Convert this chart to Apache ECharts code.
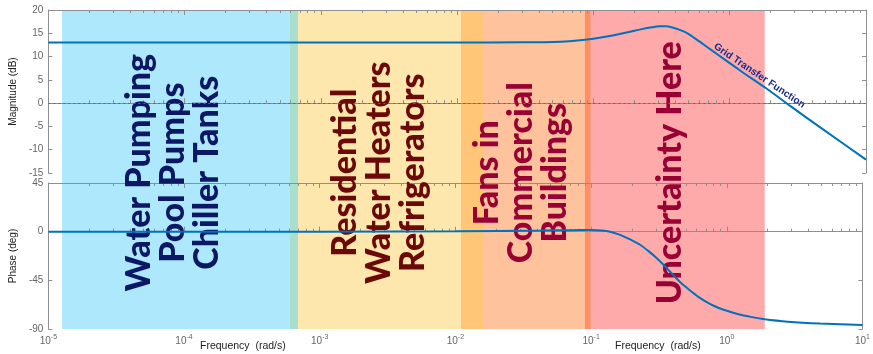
<!DOCTYPE html>
<html>
<head>
<meta charset="utf-8">
<script src="https://cdn.jsdelivr.net/npm/echarts@6/dist/echarts.min.js"></script>
<style>
  html, body { margin: 0; padding: 0; background: #fff; }
  #chart { width: 873px; height: 354px; }
</style>
</head>
<body>
<div id="chart"></div>
<script>
// magnitude curve
const magFreq = [1e-5, 1e-3, 1e-2, 0.03, 0.0437, 0.0575, 0.076, 0.1, 0.132, 0.175, 0.231, 0.27, 0.305, 0.34, 0.38, 0.42, 0.45, 0.49, 0.531, 0.61, 0.701, 0.925, 1.22, 1.85, 2.81, 4.87, 10];
const magDb = [13.0, 13.0, 13.02, 13.05, 13.08, 13.2, 13.45, 13.85, 14.4, 15.15, 15.95, 16.3, 16.5, 16.5, 16.25, 15.85, 15.5, 15.0, 14.3, 13.1, 11.8, 9.3, 6.8, 3.2, -0.7, -5.7, -12.14];

// phase curve
const phFreq = [1e-5, 1e-3, 1e-2, 0.044, 0.07, 0.1, 0.12, 0.14, 0.16, 0.175, 0.2, 0.231, 0.265, 0.305, 0.35, 0.402, 0.46, 0.531, 0.61, 0.701, 0.8, 0.925, 1.22, 1.5, 1.85, 2.81, 4.87, 10];
const phDeg = [0, 0, 0.3, 1.0, 1.4, 1.5, 1.0, -0.3, -2.5, -4.6, -8, -12.3, -18, -24.6, -32, -40, -47.5, -53.9, -59.8, -64.7, -68.5, -71.8, -76.4, -78.8, -80.7, -83.2, -85, -86.3];

// shaded frequency bands (overlaps given their own colour)
const bandStart = [1.52e-5, 6.78e-4, 7.75e-4, 0.0117, 0.0169, 0.0923, 0.102];
const bandEnd = [6.78e-4, 7.75e-4, 0.0117, 0.0169, 0.0923, 0.102, 1.85];
const bandColors = ['#aee8fc', '#a9dfcd', '#fde7ad', '#fec676', '#fec29c', '#fe8e66', '#feaaab'];

// band captions
const groupLabels = ['Water Pumping\nPool Pumps\nChiller Tanks', 'Residential\nWater Heaters\nRefrigerators', 'Fans in\nCommercial\nBuildings', 'Uncertainty Here'];
const groupFreq = [9.6e-5, 3.0e-3, 0.032, 0.38];
const groupColors = ['#0c1766', '#6b0808', '#990033', '#990033'];

const curveLabel = 'Grid Transfer Function';
const curveLabelAt = [1.65, 5.9];

const magTicks = { min: -15, max: 20, interval: 5 };
const phTicks = { min: -90, max: 45, interval: 45 };

const axisGray = '#8f8f8f';
const lineBlue = '#0072bd';

var minorVals = [];
for (var k = -5; k <= 0; k++) {
  for (var m = 2; m <= 9; m++) minorVals.push(m * Math.pow(10, k));
}

function supLabel(v) {
  var e = Math.round(Math.log10(v));
  return '{b|10}{s|' + e + '}';
}

function logAxes(grid, withLabels) {
  var base = { type: 'log', logBase: 10, min: 1e-5, max: 10, gridIndex: grid, z: 1, splitLine: { show: false } };
  var list = [];
  ['bottom', 'top'].forEach(function (pos) {
    list.push(Object.assign({}, base, {
      position: pos,
      axisLine: { show: true, lineStyle: { color: axisGray, width: 1 } },
      axisTick: { show: true, inside: true, length: 5, lineStyle: { color: axisGray } },
      axisLabel: {
        show: withLabels && pos === 'bottom',
        margin: 5,
        align: 'center',
        formatter: supLabel,
        rich: {
          b: { fontFamily: 'Liberation Sans', fontSize: 10, color: '#666', lineHeight: 14 },
          s: { fontFamily: 'Liberation Sans', fontSize: 7, color: '#666', verticalAlign: 'top', lineHeight: 14 }
        }
      }
    }));
    list.push(Object.assign({}, base, {
      position: pos,
      axisLine: { show: false },
      axisTick: { show: true, inside: true, length: 3, customValues: minorVals, lineStyle: { color: axisGray } },
      axisLabel: { show: false }
    }));
  });
  return list;
}

function valueAxes(grid, t, name) {
  return [
    {
      type: 'value', gridIndex: grid, position: 'left', z: 1,
      min: t.min, max: t.max, interval: t.interval,
      name: name, nameLocation: 'middle', nameGap: 24, nameRotate: 90,
      nameTextStyle: { fontFamily: 'Liberation Sans', fontSize: 10, color: '#222' },
      axisLine: { show: true, lineStyle: { color: axisGray } },
      axisTick: { show: true, inside: true, length: 4, lineStyle: { color: axisGray } },
      axisLabel: { fontFamily: 'Liberation Sans', fontSize: 10, color: '#666', margin: 5 },
      splitLine: { show: false }
    },
    {
      type: 'value', gridIndex: grid, position: 'right', z: 1,
      min: t.min, max: t.max, interval: t.interval,
      axisLine: { show: true, lineStyle: { color: axisGray } },
      axisTick: { show: true, inside: true, length: 4, lineStyle: { color: axisGray } },
      axisLabel: { show: false },
      splitLine: { show: false }
    }
  ];
}

var xAxes = [].concat(logAxes(0, false), logAxes(1, true));
// band overlay axis (index 8)
xAxes.push({ type: 'log', logBase: 10, min: 1e-5, max: 10, gridIndex: 2, show: false });

var yAxes = [].concat(valueAxes(0, magTicks, 'Magnitude (dB)'), valueAxes(1, phTicks, 'Phase (deg)'));
yAxes.push({ type: 'value', gridIndex: 2, min: 0, max: 1, show: false });

var chart = echarts.init(document.getElementById('chart'), null, { renderer: 'canvas' });

var option = {
  animation: false,
  backgroundColor: '#fff',
  grid: [
    { left: 37, right: 7, top: 10, height: 163 },
    { left: 37, right: 7, top: 183, height: 146 },
    { left: 37, right: 7, top: 10, height: 319 }
  ],
  xAxis: xAxes,
  yAxis: yAxes,
  graphic: [
    { type: 'text', left: 200, top: 341, style: { text: 'Frequency  (rad/s)', font: '10.5px "Liberation Sans"', fill: '#222' } },
    { type: 'text', left: 615, top: 341, style: { text: 'Frequency  (rad/s)', font: '10.5px "Liberation Sans"', fill: '#222' } }
  ],
  series: [
    {
      name: 'bands', type: 'line', xAxisIndex: 8, yAxisIndex: 4, data: [], z: 0, silent: true,
      markArea: {
        silent: true,
        itemStyle: { opacity: 1 },
        data: bandStart.map(function (s, i) {
          return [{ xAxis: s, itemStyle: { color: bandColors[i] } }, { xAxis: bandEnd[i] }];
        })
      }
    },
    {
      name: 'zero', type: 'line', xAxisIndex: 0, yAxisIndex: 0, data: [], z: 1, silent: true,
      markLine: {
        silent: true, symbol: 'none', label: { show: false },
        lineStyle: { color: '#666', type: [2, 3], width: 1 },
        data: [{ yAxis: 0 }]
      }
    },
    {
      name: 'captions', type: 'scatter', xAxisIndex: 8, yAxisIndex: 4, z: 2, silent: true,
      symbolSize: 0, itemStyle: { opacity: 1 },
      data: groupLabels.map(function (t, i) {
        return {
          value: [groupFreq[i], 0.49],
          label: {
            show: true, position: 'inside', rotate: 90, formatter: t,
            align: 'center', verticalAlign: 'middle',
            fontFamily: 'Lato', fontWeight: 900, fontSize: 34, lineHeight: 34,
            color: groupColors[i]
          }
        };
      })
    },
    {
      name: 'magnitude', type: 'line', xAxisIndex: 0, yAxisIndex: 0, z: 3,
      smooth: 0.2, showSymbol: false,
      lineStyle: { color: lineBlue, width: 2 },
      data: magFreq.map(function (f, i) { return [f, magDb[i]]; })
    },
    {
      name: 'curveLabel', type: 'scatter', xAxisIndex: 0, yAxisIndex: 0, z: 3, symbolSize: 0, silent: true,
      itemStyle: { opacity: 1 },
      data: [{
        value: curveLabelAt,
        label: {
          show: true, position: 'inside', rotate: -34, formatter: curveLabel,
          align: 'center', verticalAlign: 'middle',
          fontFamily: 'Liberation Sans', fontWeight: 'bold', fontSize: 10, color: '#1a2a8c'
        }
      }]
    },
    {
      name: 'phase', type: 'line', xAxisIndex: 4, yAxisIndex: 2, z: 3,
      smooth: 0.2, showSymbol: false,
      lineStyle: { color: lineBlue, width: 2 },
      data: phFreq.map(function (f, i) { return [f, phDeg[i]]; })
    }
  ]
};

chart.setOption(option);
</script>
</body>
</html>
